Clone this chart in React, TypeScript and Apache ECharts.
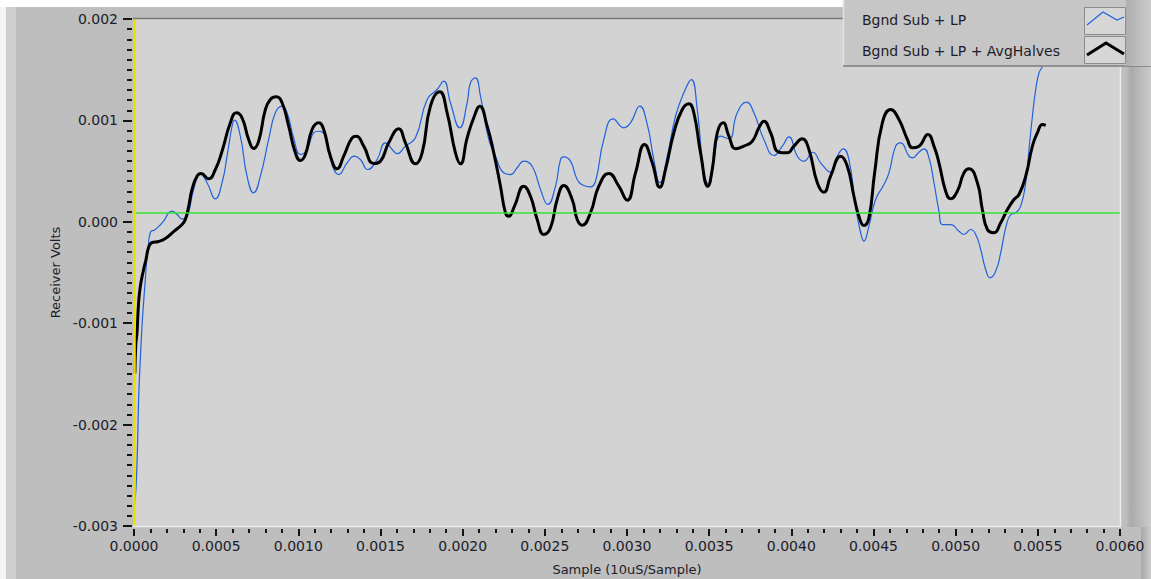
import React, { useEffect, useRef } from "react";
import * as echarts from "echarts";

// Series names
const seriesNames = ["Bgnd Sub + LP", "Bgnd Sub + LP + AvgHalves"];

// Axis settings (seconds / volts)
const xMin = 0;
const xMax = 0.006;
const xStep = 0.0005;
const yMin = -0.003;
const yMax = 0.002;
const yStep = 0.001;

// Horizontal green reference level (V) and vertical cursor at t = 0
const greenLevel = 0.00009;
const cursorT = 0;

// [time (s), volts] — "Bgnd Sub + LP" (thin blue)
const blueTrace: [number, number][] = [
  [0.0, -0.002837], [0.0000122, -0.00262], [0.0000219, -0.002176], [0.000028, -0.001752],
  [0.0000384, -0.001358], [0.0000487, -0.001032], [0.0000584, -0.000796], [0.0000688, -0.00057],
  [0.000076, -0.000402], [0.0000852, -0.000273], [0.0000992, -0.000106], [0.0001297, -0.000076],
  [0.0001802, 0.000006], [0.0002106, 0.000089], [0.0002313, 0.000105], [0.0002618, 0.000072],
  [0.000294, 0.000028], [0.0003123, 0.000033], [0.0003324, 0.000089], [0.0003628, 0.000319],
  [0.0004036, 0.000473], [0.0004444, 0.000385], [0.000495, 0.000227], [0.0005357, 0.000385],
  [0.0005662, 0.000647], [0.0005966, 0.000943], [0.0006106, 0.001002], [0.0006471, 0.000844],
  [0.0006879, 0.00045], [0.0007281, 0.000286], [0.0007689, 0.00045], [0.0008194, 0.000812],
  [0.0008602, 0.001075], [0.000901, 0.00114], [0.0009315, 0.001075], [0.0009716, 0.000828],
  [0.0010124, 0.000664], [0.0010532, 0.000713], [0.0010934, 0.000878], [0.0011238, 0.000893],
  [0.0011646, 0.000844], [0.0012054, 0.000565], [0.0012456, 0.000466], [0.0012967, 0.000582],
  [0.0013412, 0.000647], [0.0013777, 0.000614], [0.0014221, 0.000516], [0.0014794, 0.000614],
  [0.0015299, 0.000779], [0.0015805, 0.000696], [0.0016011, 0.000671], [0.0016517, 0.000746],
  [0.0017126, 0.000828], [0.0017838, 0.001206], [0.0018446, 0.001305], [0.0018848, 0.001387],
  [0.0019256, 0.001174], [0.0019822, 0.000927], [0.0020273, 0.001174], [0.0020474, 0.001371],
  [0.0020778, 0.00142], [0.0021083, 0.001239], [0.0021588, 0.000812], [0.0021996, 0.000647],
  [0.0022501, 0.000483], [0.0022909, 0.000466], [0.0023317, 0.000533], [0.0023718, 0.000598],
  [0.002423, 0.000548], [0.0024735, 0.000319], [0.002518, 0.000171], [0.0025649, 0.000351],
  [0.0025953, 0.000614], [0.0026154, 0.000641], [0.0026562, 0.000598], [0.002697, 0.000417],
  [0.0027371, 0.000358], [0.0027779, 0.000345], [0.0028084, 0.0004], [0.0028589, 0.000812],
  [0.0029161, 0.001016], [0.0029807, 0.000927], [0.0030214, 0.000976], [0.0030781, 0.00114],
  [0.0031231, 0.00096], [0.0031633, 0.000614], [0.0031998, 0.000385], [0.0032449, 0.000647],
  [0.0032954, 0.001041], [0.003346, 0.001272], [0.003391, 0.001403], [0.0034275, 0.001107],
  [0.0034677, 0.000483], [0.0034981, 0.000368], [0.0035286, 0.000614], [0.0035694, 0.000844],
  [0.0036199, 0.000819], [0.003671, 0.001075], [0.0037277, 0.00118], [0.0037721, 0.001075],
  [0.003833, 0.000812], [0.0038939, 0.000654], [0.003945, 0.000746], [0.0039852, 0.000838],
  [0.0040363, 0.000647], [0.0040765, 0.000598], [0.0041313, 0.000686], [0.0041782, 0.000582],
  [0.004239, 0.000489], [0.0042798, 0.000647], [0.0043163, 0.00072], [0.0043504, 0.000614],
  [0.0043912, 0.000154], [0.0044174, -0.000076], [0.0044418, -0.000191], [0.0044722, -0.000043],
  [0.004513, 0.00022], [0.0045635, 0.000368], [0.004594, 0.000483], [0.0046348, 0.000746],
  [0.0046652, 0.000779], [0.0047157, 0.000647], [0.0047364, 0.000631], [0.0047766, 0.000686],
  [0.0048071, 0.00072], [0.0048375, 0.000631], [0.004868, 0.000385], [0.0048984, 0.000105],
  [0.0049191, -0.000027], [0.0049696, -0.000027], [0.0050202, -0.000093], [0.0050506, -0.000125],
  [0.0050914, -0.000076], [0.0051219, -0.000125], [0.0051523, -0.000273], [0.0051827, -0.00047],
  [0.0052089, -0.000552], [0.0052436, -0.000487], [0.005274, -0.000306], [0.0053045, -0.000059],
  [0.0053349, 0.000072], [0.0053654, 0.000089], [0.0053958, 0.000154], [0.0054262, 0.000385],
  [0.0054463, 0.000713], [0.005467, 0.001041], [0.0054871, 0.001305], [0.0055072, 0.001469],
  [0.0055279, 0.001535], [0.005548, 0.0017],
];

// [time (s), volts] — "Bgnd Sub + LP + AvgHalves" (thick black)
const blackTrace: [number, number][] = [
  [0.000005, -0.001496], [0.000011, -0.00121], [0.0000183, -0.001092], [0.000028, -0.000796],
  [0.0000384, -0.000638], [0.0000584, -0.00047], [0.000073, -0.000372], [0.0000889, -0.000253],
  [0.0001096, -0.000204], [0.0001498, -0.000194], [0.0001906, -0.000165], [0.0002411, -0.000096],
  [0.0002922, -0.000027], [0.0003123, 0.000023], [0.0003324, 0.000151], [0.0003531, 0.000319],
  [0.0003835, 0.00045], [0.0004079, 0.000476], [0.0004542, 0.000424], [0.000495, 0.000516],
  [0.0005357, 0.000696], [0.0005863, 0.000976], [0.0006228, 0.001075], [0.0006575, 0.001026],
  [0.0006977, 0.000812], [0.0007281, 0.000723], [0.0007586, 0.000795], [0.0007993, 0.001107],
  [0.0008298, 0.001206], [0.0008645, 0.001233], [0.000901, 0.001174], [0.0009412, 0.000943],
  [0.000982, 0.00068], [0.0010124, 0.000605], [0.0010429, 0.000664], [0.0010837, 0.00091],
  [0.0011238, 0.000976], [0.0011543, 0.00091], [0.0011951, 0.000647], [0.0012359, 0.000523],
  [0.001276, 0.000647], [0.0013272, 0.000828], [0.0013534, 0.000844], [0.0013978, 0.000746],
  [0.0014587, 0.000575], [0.0014995, 0.000598], [0.00155, 0.000779], [0.0016109, 0.000917],
  [0.0016517, 0.000779], [0.0017126, 0.000572], [0.0017534, 0.00068], [0.0018039, 0.00114],
  [0.0018605, 0.001282], [0.0019055, 0.001075], [0.0019561, 0.00068], [0.0019865, 0.000572],
  [0.0020273, 0.000828], [0.0020675, 0.001026], [0.002104, 0.00114], [0.002149, 0.000943],
  [0.0021892, 0.00068], [0.00223, 0.000351], [0.0022604, 0.000089], [0.0022805, 0.000055],
  [0.0023152, 0.000154], [0.0023718, 0.000351], [0.0024126, 0.000252], [0.0024534, 0.000023],
  [0.0024936, -0.000125], [0.0025344, -0.000059], [0.0025752, 0.00022], [0.0026154, 0.000358],
  [0.0026665, 0.00022], [0.002697, 0.000023], [0.0027274, -0.000034], [0.0027779, 0.000089],
  [0.0028285, 0.000351], [0.0028893, 0.000476], [0.0029502, 0.000351], [0.0030013, 0.000213],
  [0.0030519, 0.000483], [0.0031067, 0.000762], [0.0031535, 0.000582], [0.0031998, 0.000341],
  [0.0032345, 0.000516], [0.0032851, 0.000878], [0.0033362, 0.001107], [0.0033764, 0.001164],
  [0.0034068, 0.001075], [0.0034476, 0.00068], [0.003492, 0.000351], [0.0035188, 0.000516],
  [0.0035493, 0.000878], [0.0035858, 0.000976], [0.0036199, 0.000844], [0.0036607, 0.00072],
  [0.0037112, 0.000746], [0.0037624, 0.000795], [0.0038026, 0.000927], [0.003833, 0.000992],
  [0.0038738, 0.000878], [0.0039243, 0.000686], [0.0039754, 0.00068], [0.0040156, 0.000746],
  [0.0040668, 0.000819], [0.0041069, 0.000713], [0.0041581, 0.000385], [0.0041983, 0.000292],
  [0.004239, 0.00045], [0.0042999, 0.000647], [0.0043407, 0.000548], [0.0043809, 0.000252],
  [0.0044113, 0.000055], [0.0044418, -0.000036], [0.0044722, 0.000039], [0.0045069, 0.000483],
  [0.0045538, 0.000976], [0.0046043, 0.001107], [0.0046549, 0.001009], [0.004706, 0.000812],
  [0.0047364, 0.00073], [0.0047766, 0.000746], [0.0048314, 0.000861], [0.0048679, 0.000746],
  [0.0048983, 0.000582], [0.0049391, 0.000302], [0.0049696, 0.000227], [0.0050104, 0.000302],
  [0.0050505, 0.000483], [0.005081, 0.000523], [0.0051321, 0.000385], [0.0051625, 0.000121],
  [0.005193, -0.000076], [0.0052332, -0.000108], [0.005274, -0.00001], [0.0053148, 0.000121],
  [0.005355, 0.00022], [0.0053854, 0.000269], [0.0054262, 0.00045], [0.005467, 0.000746],
  [0.0054974, 0.000878], [0.0055279, 0.00096], [0.005548, 0.00095],
];

const FONT = "DejaVu Sans";
const TEXT = "#1c1c2a";
const BLUE = "#2161dd";

export default function App() {
  const ref = useRef<HTMLDivElement>(null);

  useEffect(() => {
    if (!ref.current) return;
    const chart = echarts.init(ref.current, undefined, { renderer: "svg" });
    const Z = 100;
    const option: any = {
      animation: false,
      backgroundColor: "#bebebe",
      textStyle: { fontFamily: FONT },
      grid: {
        left: 134,
        right: 31,
        top: 19,
        bottom: 53,
        show: true,
        backgroundColor: "#d3d3d3",
        borderWidth: 0,
        containLabel: false,
        outerBoundsMode: "none",
      },
      xAxis: {
        type: "value",
        min: xMin,
        max: xMax,
        interval: xStep,
        offset: 3,
        axisLine: { show: false, onZero: false },
        axisTick: { show: true, length: 7, lineStyle: { color: "#151515", width: 2 } },
        minorTick: { show: true, splitNumber: 5, length: 4, lineStyle: { color: "#151515", width: 2 } },
        splitLine: { show: false },
        minorSplitLine: { show: false },
        axisLabel: {
          formatter: (v: number) => v.toFixed(4),
          color: TEXT,
          fontSize: 14,
          fontFamily: FONT,
          margin: 10,
        },
        name: "Sample (10uS/Sample)",
        nameLocation: "middle",
        nameGap: 34,
        nameTextStyle: { fontSize: 13, color: TEXT, fontFamily: FONT },
        z: 5,
      },
      yAxis: {
        type: "value",
        min: yMin,
        max: yMax,
        interval: yStep,
        offset: 2,
        axisLine: { show: false, onZero: false },
        axisTick: { show: true, length: 9, lineStyle: { color: "#151515", width: 2 } },
        minorTick: { show: true, splitNumber: 10, length: 5, lineStyle: { color: "#151515", width: 2 } },
        splitLine: { show: false },
        minorSplitLine: { show: false },
        axisLabel: {
          formatter: (v: number) => v.toFixed(3),
          color: TEXT,
          fontSize: 14,
          fontFamily: FONT,
          margin: 14,
        },
        name: "Receiver Volts",
        nameLocation: "middle",
        nameGap: 67,
        nameTextStyle: { fontSize: 13, color: TEXT, fontFamily: FONT },
        z: 5,
      },
      series: [
        {
          name: seriesNames[0],
          type: "line",
          data: blueTrace,
          symbol: "none",
          showSymbol: false,
          smooth: 0.5,
          lineStyle: { color: BLUE, width: 1.2 },
          z: 2,
          markLine: {
            silent: true,
            precision: 8,
            symbol: ["none", "none"],
            label: { show: false },
            data: [
              { yAxis: greenLevel, lineStyle: { color: "#35e535", width: 1.6, type: "solid" } },
              { xAxis: cursorT, lineStyle: { color: "#ece000", width: 2.5, type: "solid" } },
            ],
          },
        },
        {
          name: seriesNames[1],
          type: "line",
          data: blackTrace,
          symbol: "none",
          showSymbol: false,
          smooth: 0.5,
          lineStyle: { color: "#000000", width: 3 },
          z: 3,
        },
      ],
      graphic: [
        // window bevels
        { type: "rect", z: 0, shape: { x: 0, y: 0, width: 6, height: 579 }, style: { fill: "#f4f4f4" } },
        { type: "rect", z: 0, shape: { x: 6, y: 7, width: 10, height: 572 }, style: { fill: "#cfcfcf" } },
        { type: "rect", z: 0, shape: { x: 0, y: 0, width: 843, height: 7 }, style: { fill: "#ffffff" } },
        {
          type: "rect",
          z: 0,
          shape: { x: 1126, y: 0, width: 25, height: 527 },
          style: {
            fill: {
              type: "linear", x: 0, y: 0, x2: 1, y2: 0,
              colorStops: [
                { offset: 0, color: "#bdbdbd" },
                { offset: 0.2, color: "#aaaaaa" },
                { offset: 1, color: "#cbcbcb" },
              ],
            },
          },
        },
        {
          type: "rect",
          z: 0,
          shape: { x: 1141, y: 527, width: 10, height: 52 },
          style: {
            fill: {
              type: "linear", x: 0, y: 0, x2: 1, y2: 0,
              colorStops: [
                { offset: 0, color: "#a8a8a8" },
                { offset: 1, color: "#cbcbcb" },
              ],
            },
          },
        },
        // plot frame
        { type: "line", z: 10, shape: { x1: 133, y1: 18.5, x2: 1121, y2: 18.5 }, style: { stroke: "#7a7a7a", lineWidth: 1.5 } },
        { type: "line", z: 10, shape: { x1: 133, y1: 526.5, x2: 1121, y2: 526.5 }, style: { stroke: "#ececec", lineWidth: 1.5 } },
        { type: "line", z: 10, shape: { x1: 1120.5, y1: 18, x2: 1120.5, y2: 527 }, style: { stroke: "#ececec", lineWidth: 1.5 } },
        // legend panel
        { type: "rect", z: Z, shape: { x: 843, y: 0, width: 308, height: 66 }, style: { fill: "#c6c6c6" } },
        { type: "line", z: Z, shape: { x1: 843.5, y1: 0, x2: 843.5, y2: 66 }, style: { stroke: "#e2e2e2", lineWidth: 1.5 } },
        { type: "line", z: Z, shape: { x1: 843, y1: 66, x2: 1151, y2: 66 }, style: { stroke: "#7c7c7c", lineWidth: 1.5 } },
        {
          type: "rect",
          z: Z,
          shape: { x: 1126, y: 0, width: 25, height: 66 },
          style: {
            fill: {
              type: "linear", x: 0, y: 0, x2: 1, y2: 0,
              colorStops: [
                { offset: 0, color: "#aeaeae" },
                { offset: 1, color: "#cbcbcb" },
              ],
            },
          },
        },
        { type: "rect", z: Z, shape: { x: 1084.5, y: 7.5, width: 41, height: 27 }, style: { fill: "#d6d6d6", stroke: "#8c8c8c", lineWidth: 1 } },
        { type: "rect", z: Z, shape: { x: 1084.5, y: 36.5, width: 41, height: 27 }, style: { fill: "#d6d6d6", stroke: "#8c8c8c", lineWidth: 1 } },
        {
          type: "polyline", z: Z + 1,
          shape: { points: [[1087, 25], [1103, 12], [1117, 20], [1124, 17]] },
          style: { stroke: BLUE, lineWidth: 1.2, fill: null },
        },
        {
          type: "polyline", z: Z + 1,
          shape: { points: [[1087, 55], [1106, 43], [1124, 54]] },
          style: { stroke: "#000", lineWidth: 3, fill: null },
        },
        {
          type: "text", z: Z + 1, x: 862, y: 20,
          style: { text: seriesNames[0], fill: TEXT, font: `14px '${FONT}'`, textVerticalAlign: "middle", verticalAlign: "middle" },
        },
        {
          type: "text", z: Z + 1, x: 862, y: 51,
          style: { text: seriesNames[1], fill: TEXT, font: `14px '${FONT}'`, textVerticalAlign: "middle", verticalAlign: "middle" },
        },
      ],
    };
    chart.setOption(option);
    return () => chart.dispose();
  }, []);

  return (
    <div
      ref={ref}
      style={{ position: "absolute", left: 0, top: 0, width: 1151, height: 579 }}
    />
  );
}
